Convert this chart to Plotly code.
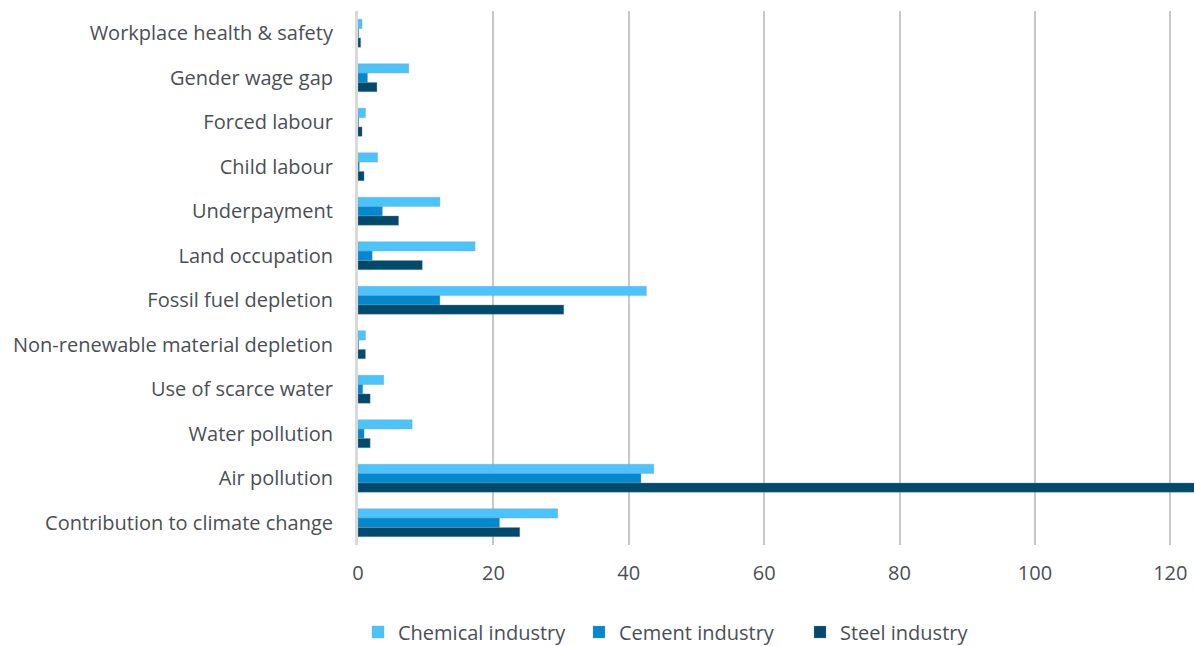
import plotly.graph_objects as go

categories = [
    "Workplace health & safety",
    "Gender wage gap",
    "Forced labour",
    "Child labour",
    "Underpayment",
    "Land occupation",
    "Fossil fuel depletion",
    "Non-renewable material depletion",
    "Use of scarce water",
    "Water pollution",
    "Air pollution",
    "Contribution to climate change",
]

chemical = [0.6, 7.5, 1.1, 2.9, 12.1, 17.3, 42.6, 1.1, 3.8, 8.0, 43.7, 29.5]
cement = [0.1, 1.4, 0.1, 0.2, 3.6, 2.1, 12.1, 0.1, 0.7, 0.9, 41.8, 20.9]
steel = [0.4, 2.8, 0.6, 0.9, 6.0, 9.5, 30.4, 1.1, 1.8, 1.8, 125.0, 23.9]

series = [
    ("Chemical industry", chemical, "#49C4FF"),
    ("Cement industry", cement, "#0089CF"),
    ("Steel industry", steel, "#004A6E"),
]

x_ticks = [0, 20, 40, 60, 80, 100, 120]

fig = go.Figure()
for name, values, color in series:
    fig.add_trace(go.Bar(
        y=categories,
        x=values,
        name=name,
        orientation="h",
        marker=dict(color=color, line=dict(color="rgba(150,150,150,0.6)", width=0.6)),
    ))

text_color = "#4a4f55"
font_family = "Open Sans, Noto Sans, sans-serif"

fig.update_layout(
    width=1194,
    height=646,
    barmode="group",
    bargap=0.37,
    bargroupgap=0,
    plot_bgcolor="white",
    paper_bgcolor="white",
    margin=dict(l=358, r=0, t=11, b=101, autoexpand=False),
    font=dict(family=font_family, size=20, color=text_color),
    xaxis=dict(
        range=[0, 123.5],
        tickvals=x_ticks,
        showgrid=True,
        gridcolor="#c8c8c8",
        gridwidth=2,
        zeroline=False,
        showline=False,
        ticks="",
        ticklabelstandoff=14,
        tickfont=dict(size=20, color=text_color),
    ),
    yaxis=dict(
        autorange="reversed",
        showline=True,
        linecolor="#d9d9d9",
        linewidth=3,
        ticks="",
        ticklabelstandoff=18,
        tickfont=dict(size=20, color=text_color),
    ),
    legend=dict(
        orientation="h",
        x=0.0,
        xanchor="left",
        y=-0.163,
        yanchor="middle",
        entrywidth=176,
        font=dict(size=20, color=text_color),
        itemwidth=30,
    ),
)

fig.write_html("out.html")
